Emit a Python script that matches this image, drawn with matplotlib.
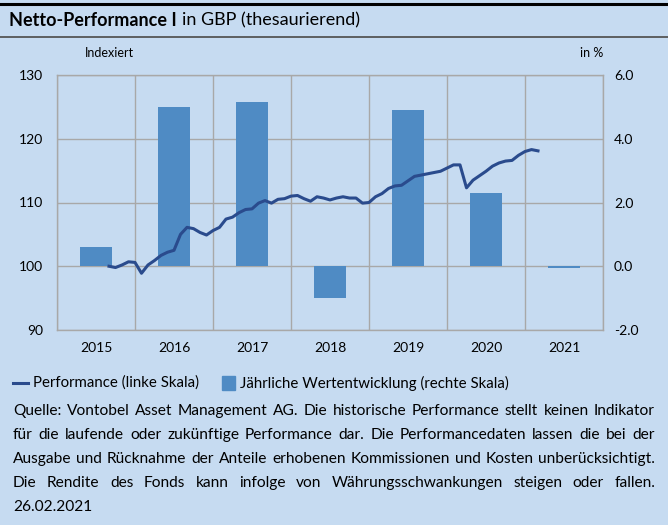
"""Netto-Performance I in GBP: Indexlinie (links) und Jahresbalken (rechts)."""
import matplotlib
matplotlib.use("Agg")
import matplotlib.pyplot as plt
from matplotlib.lines import Line2D
from matplotlib.patches import Rectangle

plt.rcParams["font.family"] = ["Lato", "DejaVu Sans"]

BG = "#c6dbf1"
BAR = "#4f8bc4"
LINE = "#2a4b8d"
GRID = "#a8a8a8"

# Daten
years = ["2015", "2016", "2017", "2018", "2019", "2020", "2021"]
annual_pct = [0.6, 5.0, 5.15, -1.0, 4.9, 2.3, -0.05]

# Monatsindex (Monate seit Jan 2015) und indexierte Performance
month_idx = list(range(8, 75))
perf = [
    100.0, 99.8, 100.2, 100.7, 100.6, 98.9, 100.2, 100.9, 101.7, 102.2,
    102.5, 105.0, 106.1, 105.9, 105.3, 104.9, 105.6, 106.1, 107.4, 107.7,
    108.4, 108.9, 109.0, 109.9, 110.3, 109.9, 110.5, 110.6, 111.0, 111.1,
    110.6, 110.2, 110.9, 110.7, 110.4, 110.7, 110.9, 110.7, 110.7, 109.9,
    110.0, 110.9, 111.4, 112.2, 112.6, 112.7, 113.4, 114.1, 114.3, 114.5,
    114.7, 114.9, 115.4, 115.9, 115.9, 112.3, 113.5, 114.2, 114.9, 115.7,
    116.2, 116.5, 116.6, 117.4, 118.0, 118.3, 118.1,
]

left_ticks = [90, 100, 110, 120, 130]
right_ticks = [-2.0, 0.0, 2.0, 4.0, 6.0]

W, H = 668, 525
fig = plt.figure(figsize=(W / 100, H / 100), dpi=100)
fig.patch.set_facecolor(BG)


def fx(px):
    return px / W


def fy(py):
    return 1 - py / H


# Rahmenlinien oben
fig.add_artist(Line2D([0, 1], [fy(4), fy(4)], color="black", lw=2.2))
fig.add_artist(Line2D([0, 1], [fy(37), fy(37)], color="#555555", lw=1.3))

t1 = fig.text(fx(9), fy(20), "Netto-Performance I", fontsize=13, fontweight="bold",
              va="center", ha="left")
fig.canvas.draw()
r = fig.canvas.get_renderer()
bb = t1.get_window_extent(r)
fig.text(bb.x1 / W + fx(5), fy(20), "in GBP (thesaurierend)", fontsize=13,
         va="center", ha="left")

# Achsen
ax2 = fig.add_axes([fx(57), fy(330), fx(603 - 57), fy(75) - fy(330)])
ax = ax2.twinx()
ax.set_zorder(ax2.get_zorder() + 1)
ax.patch.set_visible(False)
ax2.set_facecolor(BG)

centers = [i + 0.5 for i in range(len(years))]
ax2.bar(centers, annual_pct, width=0.42, color=BAR, zorder=2)
ax2.set_ylim(-2, 6)
ax2.set_xlim(0, len(years))
ax2.set_yticks(right_ticks)
ax2.set_yticklabels([f"{v:.1f}" for v in right_ticks])
ax2.yaxis.tick_right()
ax2.set_xticks(range(0, len(years) + 1), minor=False)
ax2.set_xticklabels([])
ax2.set_xticks(centers, minor=True)
ax2.set_xticklabels(years, minor=True)
ax2.grid(True, which="major", color=GRID, lw=1.0, zorder=0)
ax2.set_axisbelow(True)
ax2.tick_params(which="both", length=0, labelsize=10, pad=8)
ax2.tick_params(axis="x", which="minor", pad=9)
for s in ax2.spines.values():
    s.set_color(GRID)
    s.set_linewidth(1.0)

x_line = [m / 12 for m in month_idx]
ax.plot(x_line, perf, color=LINE, lw=2.2, solid_joinstyle="round")
ax.set_ylim(90, 130)
ax.set_yticks(left_ticks)
ax.yaxis.tick_left()
ax.tick_params(length=0, labelsize=10, pad=10)
for s in ax.spines.values():
    s.set_visible(False)

fig.text(fx(85), fy(53), "Indexiert", fontsize=9, va="center", ha="left")
fig.text(fx(603), fy(53), "in %", fontsize=9, va="center", ha="right")

# Legende
fig.add_artist(Line2D([fx(13), fx(28)], [fy(383), fy(383)], color=LINE, lw=2.2))
fig.text(fx(33), fy(383), "Performance (linke Skala)", fontsize=10.8, va="center")
fig.add_artist(Rectangle((fx(222), fy(390)), fx(13), fy(376) - fy(390),
                         transform=fig.transFigure, color=BAR))
fig.text(fx(240), fy(383), "Jährliche Wertentwicklung (rechte Skala)",
         fontsize=10.8, va="center")

# Fussnote (Blocksatz)
lines = [
    "Quelle: Vontobel Asset Management AG. Die historische Performance stellt keinen Indikator",
    "für die laufende oder zukünftige Performance dar. Die Performancedaten lassen die bei der",
    "Ausgabe und Rücknahme der Anteile erhobenen Kommissionen und Kosten unberücksichtigt.",
    "Die Rendite des Fonds kann infolge von Währungsschwankungen steigen oder fallen.",
]
last_line = "26.02.2021"
x0, x1 = 13, 655
ys = [411, 435, 459, 483]
fs_note = 11.2
for text, ypx in zip(lines, ys):
    words = text.split(" ")
    objs = [fig.text(0, fy(ypx), w, fontsize=fs_note, va="center", ha="left") for w in words]
    widths = [o.get_window_extent(r).width for o in objs]
    gap = (x1 - x0 - sum(widths)) / (len(words) - 1)
    xp = x0
    for o, wd in zip(objs, widths):
        o.set_x(fx(xp))
        xp += wd + gap
fig.text(fx(x0), fy(507), last_line, fontsize=fs_note, va="center", ha="left")

fig.savefig("out.png", dpi=100, facecolor=BG)
